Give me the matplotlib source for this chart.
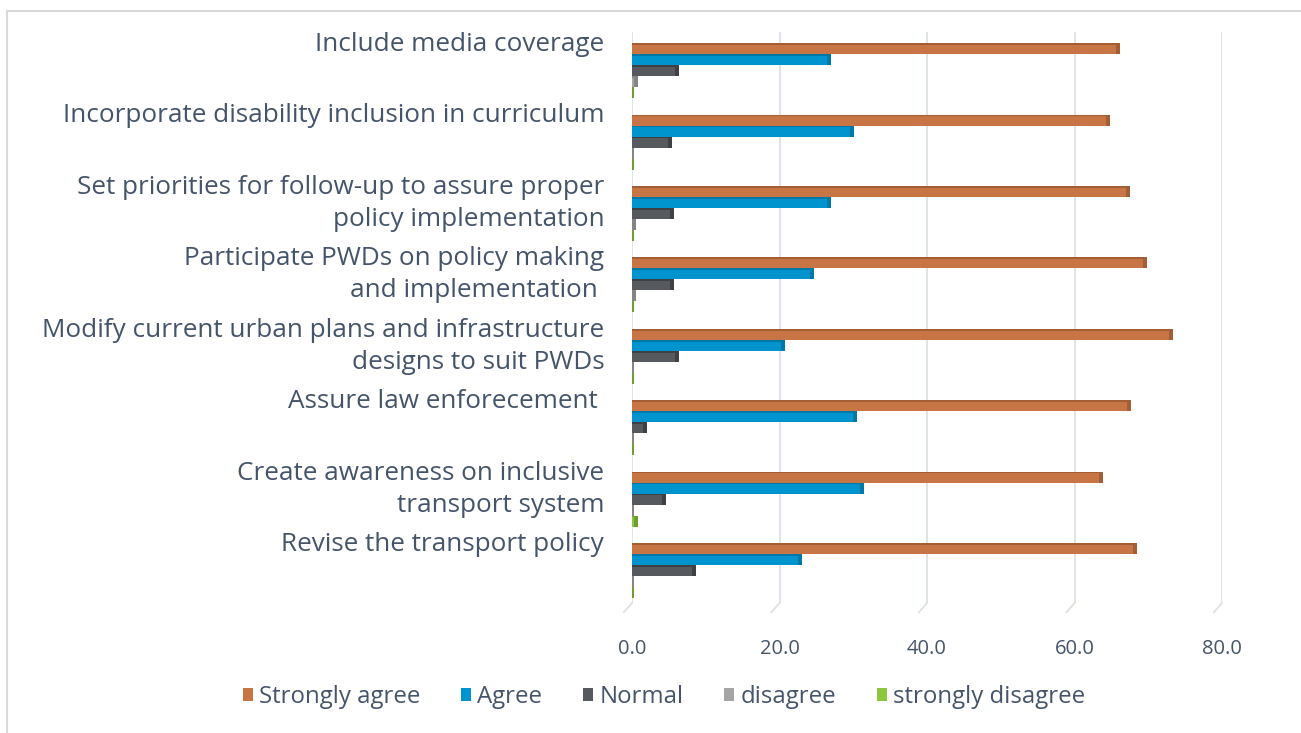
import numpy as np
import matplotlib.pyplot as plt
from matplotlib.lines import Line2D
from matplotlib.patches import Patch

plt.rcParams['font.family'] = ['Open Sans', 'DejaVu Sans']

# Measures, listed top to bottom as they appear on the chart
measures = [
    "Include media coverage",
    "Incorporate disability inclusion in curriculum",
    "Set priorities for follow-up to assure proper\npolicy implementation",
    "Participate PWDs on policy making\nand implementation ",
    "Modify current urban plans and infrastructure\ndesigns to suit PWDs",
    "Assure law enforecement ",
    "Create awareness on inclusive\ntransport system",
    "Revise the transport policy",
]

series_names = ["Strongly agree", "Agree", "Normal", "disagree", "strongly disagree"]

# Percent of respondents per response level
strongly_agree = [66.2, 64.8, 67.5, 69.8, 73.4, 67.7, 63.9, 68.5]
agree = [27.0, 30.1, 27.0, 24.7, 20.7, 30.5, 31.5, 23.1]
normal = [6.4, 5.4, 5.7, 5.7, 6.4, 2.0, 4.6, 8.7]
disagree = [0.8, 0.3, 0.5, 0.5, 0.3, 0.3, 0.3, 0.3]
strongly_disagree = [0.3, 0.3, 0.3, 0.3, 0.3, 0.3, 0.8, 0.3]

colors = ["#C87545", "#0094CE", "#56595D", "#A5A5A5", "#8DC63F"]
edge_colors = ["#A35E36", "#0079A8", "#3E4043", "#858585", "#6F9F30"]
text_color = "#44546A"
grid_color = "#DCE1E8"

fig = plt.figure(figsize=(13.01, 7.33), dpi=100)
ax = fig.add_axes([632 / 1301, 1 - 603 / 733, (1222 - 632) / 1301, (603 - 32) / 733])

y = np.arange(len(measures))
h = 0.154
cap = 0.55  # width of the shaded end face, in axis units
all_series = [strongly_agree, agree, normal, disagree, strongly_disagree]
for k, (vals, name) in enumerate(zip(all_series, series_names)):
    pos = y - 1.5 * h + k * h - 0.07
    vals = np.asarray(vals)
    ax.barh(pos, vals, height=h, color=colors[k], edgecolor='none', label=name, zorder=3)
    # darker top edge and end face give the bars their bevelled look
    ax.barh(pos - h / 2 + 0.012, vals, height=0.024, color=edge_colors[k], zorder=4)
    ax.barh(pos, np.minimum(cap, vals), left=vals - np.minimum(cap, vals), height=h,
            color=edge_colors[k], zorder=4)

ax.set_xlim(0, 80)
ax.set_ylim(7.46, -0.52)
ticks = [0, 20, 40, 60, 80]
ax.set_xticks(ticks)
ax.set_xticklabels([f"{v:.1f}" for v in ticks])
ax.tick_params(axis='x', length=0, pad=26, labelsize=14.5, labelcolor=text_color)
ax.grid(axis='x', color=grid_color, linewidth=1.3, zorder=0)
for s in ax.spines.values():
    s.set_visible(False)

# slanted floor ends of the gridlines
for xv in ticks:
    ax.plot([xv, xv - 1.1], [7.46, 7.46 + 0.13], color=grid_color, lw=1.3,
            clip_on=False, zorder=0)

# category labels sit level with the top of each group
ax.set_yticks(y - 2.5 * h - 0.15)
ax.set_yticklabels(measures, va='top', ha='right', linespacing=1.38)
ax.tick_params(axis='y', length=0, pad=20, labelsize=18.8, labelcolor=text_color)

handles = [Patch(facecolor=c, edgecolor='none') for c in colors]
fig.legend(handles, series_names, loc='center', bbox_to_anchor=(664 / 1301, 1 - 697 / 733),
           ncol=5, frameon=False, fontsize=17.3, handlelength=0.42, handleheight=0.42,
           handletextpad=0.25, columnspacing=1.7, labelcolor=text_color)

# thin frame around the chart area
fig.add_artist(Line2D([7 / 1301, 1.0], [1 - 11 / 733] * 2, color="#D9D9D9", lw=1.5))
fig.add_artist(Line2D([7 / 1301] * 2, [0.0, 1 - 11 / 733], color="#D9D9D9", lw=1.5))

fig.savefig("out.png", dpi=100)
